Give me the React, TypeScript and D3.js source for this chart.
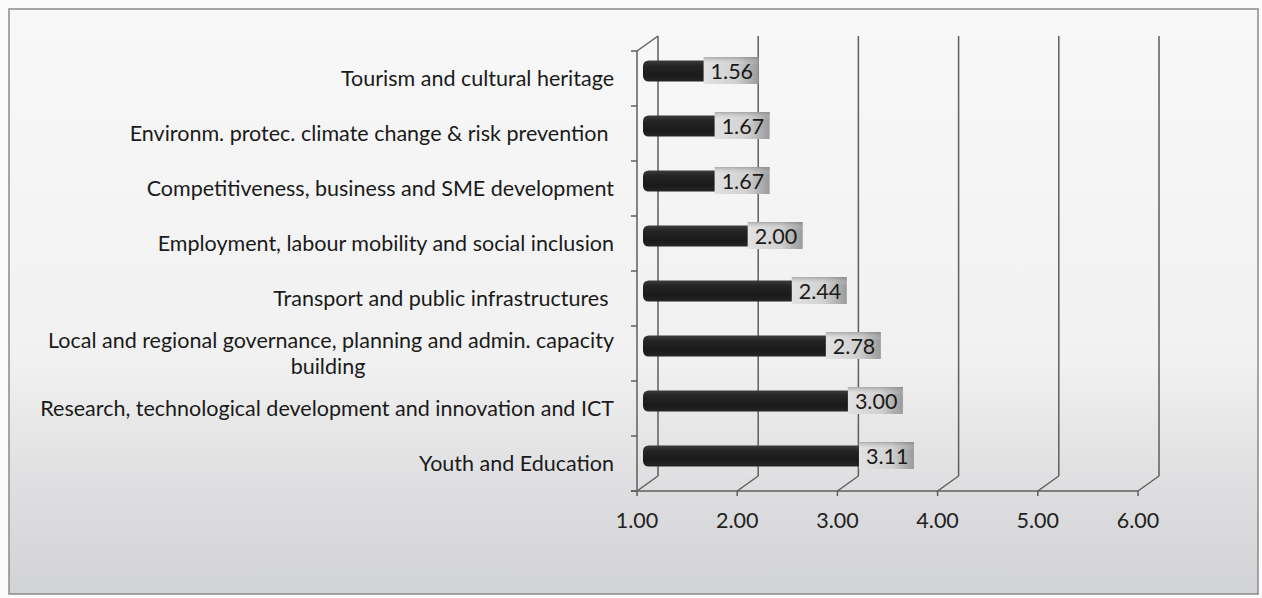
import React from "react";
import * as d3 from "d3";

const categories: string[][] = [
  ["Tourism and cultural heritage"],
  ["Environm. protec. climate change & risk prevention "],
  ["Competitiveness, business and SME development"],
  ["Employment, labour mobility and social inclusion"],
  ["Transport and public infrastructures "],
  ["Local and regional governance, planning and admin. capacity", "building"],
  ["Research, technological development and innovation and ICT"],
  ["Youth and Education"],
];
const values: number[] = [1.56, 1.67, 1.67, 2.0, 2.44, 2.78, 3.0, 3.11];
const tickValues: number[] = [1, 2, 3, 4, 5, 6];

const W = 1262;
const H = 598;
const FONT = "Lato, 'Open Sans', sans-serif";
const FS = 21.5;

export default function App() {
  const x0 = 637;
  const x = d3.scaleLinear().domain([1, 6]).range([x0, x0 + 501]);
  const yTop = 51;
  const yBot = 491;
  const y = d3
    .scaleBand<number>()
    .domain(d3.range(categories.length))
    .range([yTop, yBot]);
  const dx = 21;
  const dy = -15;
  const gridColor = "#5e5e5e";
  const boundaries = d3.range(categories.length + 1).map((i) => yTop + i * y.step());
  const labelRight = 614;
  const wrapCenter = 328;

  return (
    <div style={{ margin: 0 }}>
      <svg width={W} height={H} style={{ position: "absolute", left: 0, top: 0 }}>
        <defs>
          <linearGradient id="bg" x1="0" y1="0" x2="0" y2="1">
            <stop offset="0" stopColor="#f8f8f8" />
            <stop offset="0.6" stopColor="#f1f1f1" />
            <stop offset="0.82" stopColor="#dedee0" />
            <stop offset="1" stopColor="#d2d3d6" />
          </linearGradient>
          <linearGradient id="bar" x1="0" y1="0" x2="0" y2="1">
            <stop offset="0" stopColor="#3c3c3c" />
            <stop offset="0.25" stopColor="#242424" />
            <stop offset="0.7" stopColor="#1a1a1a" />
            <stop offset="1" stopColor="#262626" />
          </linearGradient>
          <linearGradient id="box" x1="0" y1="0" x2="1" y2="0">
            <stop offset="0" stopColor="#e2e2e2" />
            <stop offset="0.6" stopColor="#d0d0d0" />
            <stop offset="1" stopColor="#9a9a9a" />
          </linearGradient>
          <linearGradient id="boxTop" x1="0" y1="0" x2="0" y2="1">
            <stop offset="0" stopColor="#777" stopOpacity="0.5" />
            <stop offset="0.3" stopColor="#fff" stopOpacity="0" />
            <stop offset="1" stopColor="#fff" stopOpacity="0" />
          </linearGradient>
        </defs>
        <rect x={0} y={0} width={W} height={H} fill="#fbfbfb" />
        <rect x={9} y={9} width={1249} height={585} fill="url(#bg)" stroke="#8a8a8a" strokeWidth={1.5} />

        {/* left wall */}
        <line x1={x0} y1={yTop} x2={x0} y2={yBot} stroke={gridColor} strokeWidth={1.5} />
        <line x1={x0 + dx} y1={yTop + dy} x2={x0 + dx} y2={yBot + dy} stroke={gridColor} strokeWidth={1.5} />
        <line x1={x0} y1={yTop} x2={x0 + dx} y2={yTop + dy} stroke={gridColor} strokeWidth={1.5} />
        {boundaries.map((b, i) => (
          <line key={"lt" + i} x1={x0 - 6} y1={b} x2={x0} y2={b} stroke={gridColor} strokeWidth={1.5} />
        ))}

        {/* gridlines on back wall and floor */}
        {tickValues.map((t) => (
          <g key={"g" + t}>
            {t > 1 && (
              <line x1={x(t) + dx} y1={yTop + dy} x2={x(t) + dx} y2={yBot + dy} stroke={gridColor} strokeWidth={1.5} />
            )}
            <line x1={x(t) + dx} y1={yBot + dy} x2={x(t)} y2={yBot} stroke={gridColor} strokeWidth={1.5} />
            <line x1={x(t)} y1={yBot} x2={x(t)} y2={yBot + 5} stroke={gridColor} strokeWidth={1.5} />
            <text x={x(t)} y={yBot + 37} textAnchor="middle" fontFamily={FONT} fontSize={FS} fill="#222">
              {t.toFixed(2)}
            </text>
          </g>
        ))}
        <line x1={x0 - 6} y1={yBot} x2={x(6)} y2={yBot} stroke={gridColor} strokeWidth={1.5} />

        {/* bars */}
        {values.map((v, i) => {
          const cy = (y(i) as number) + y.bandwidth() / 2 + dy / 2;
          const bx0 = x(1) + 6;
          const bx1 = x(v) + dx / 2;
          const bh = 21;
          const r = 6;
          const top = cy - bh / 2;
          const path = `M${bx1},${top} L${bx0 + r},${top} Q${bx0},${top} ${bx0},${top + r} L${bx0},${top + bh - r} Q${bx0},${top + bh} ${bx0 + r},${top + bh} L${bx1},${top + bh} Z`;
          return (
            <g key={"b" + i}>
              <rect x={bx1} y={cy - 14} width={55} height={27} fill="url(#box)" />
              <rect x={bx1} y={cy - 14} width={55} height={27} fill="url(#boxTop)" />
              <path d={path} fill="url(#bar)" />
              <text x={bx1 + 7} y={cy + 8} fontFamily={FONT} fontSize={FS} fill="#1a1a1a">
                {v.toFixed(2)}
              </text>
            </g>
          );
        })}

        {/* category labels */}
        {categories.map((lines, i) => {
          const cy = (y(i) as number) + y.bandwidth() / 2;
          const lh = 26;
          const start = cy - ((lines.length - 1) * lh) / 2 + 7.5;
          return (
            <text key={"c" + i} fontFamily={FONT} fontSize={FS} fill="#1a1a1a" style={{ whiteSpace: "pre" }}>
              {lines.map((ln, j) => {
                const wrapped = lines.length > 1 && j > 0;
                return (
                  <tspan
                    key={j}
                    x={wrapped ? wrapCenter : labelRight}
                    y={start + j * lh}
                    textAnchor={wrapped ? "middle" : "end"}
                  >
                    {ln}
                  </tspan>
                );
              })}
            </text>
          );
        })}
      </svg>
    </div>
  );
}
